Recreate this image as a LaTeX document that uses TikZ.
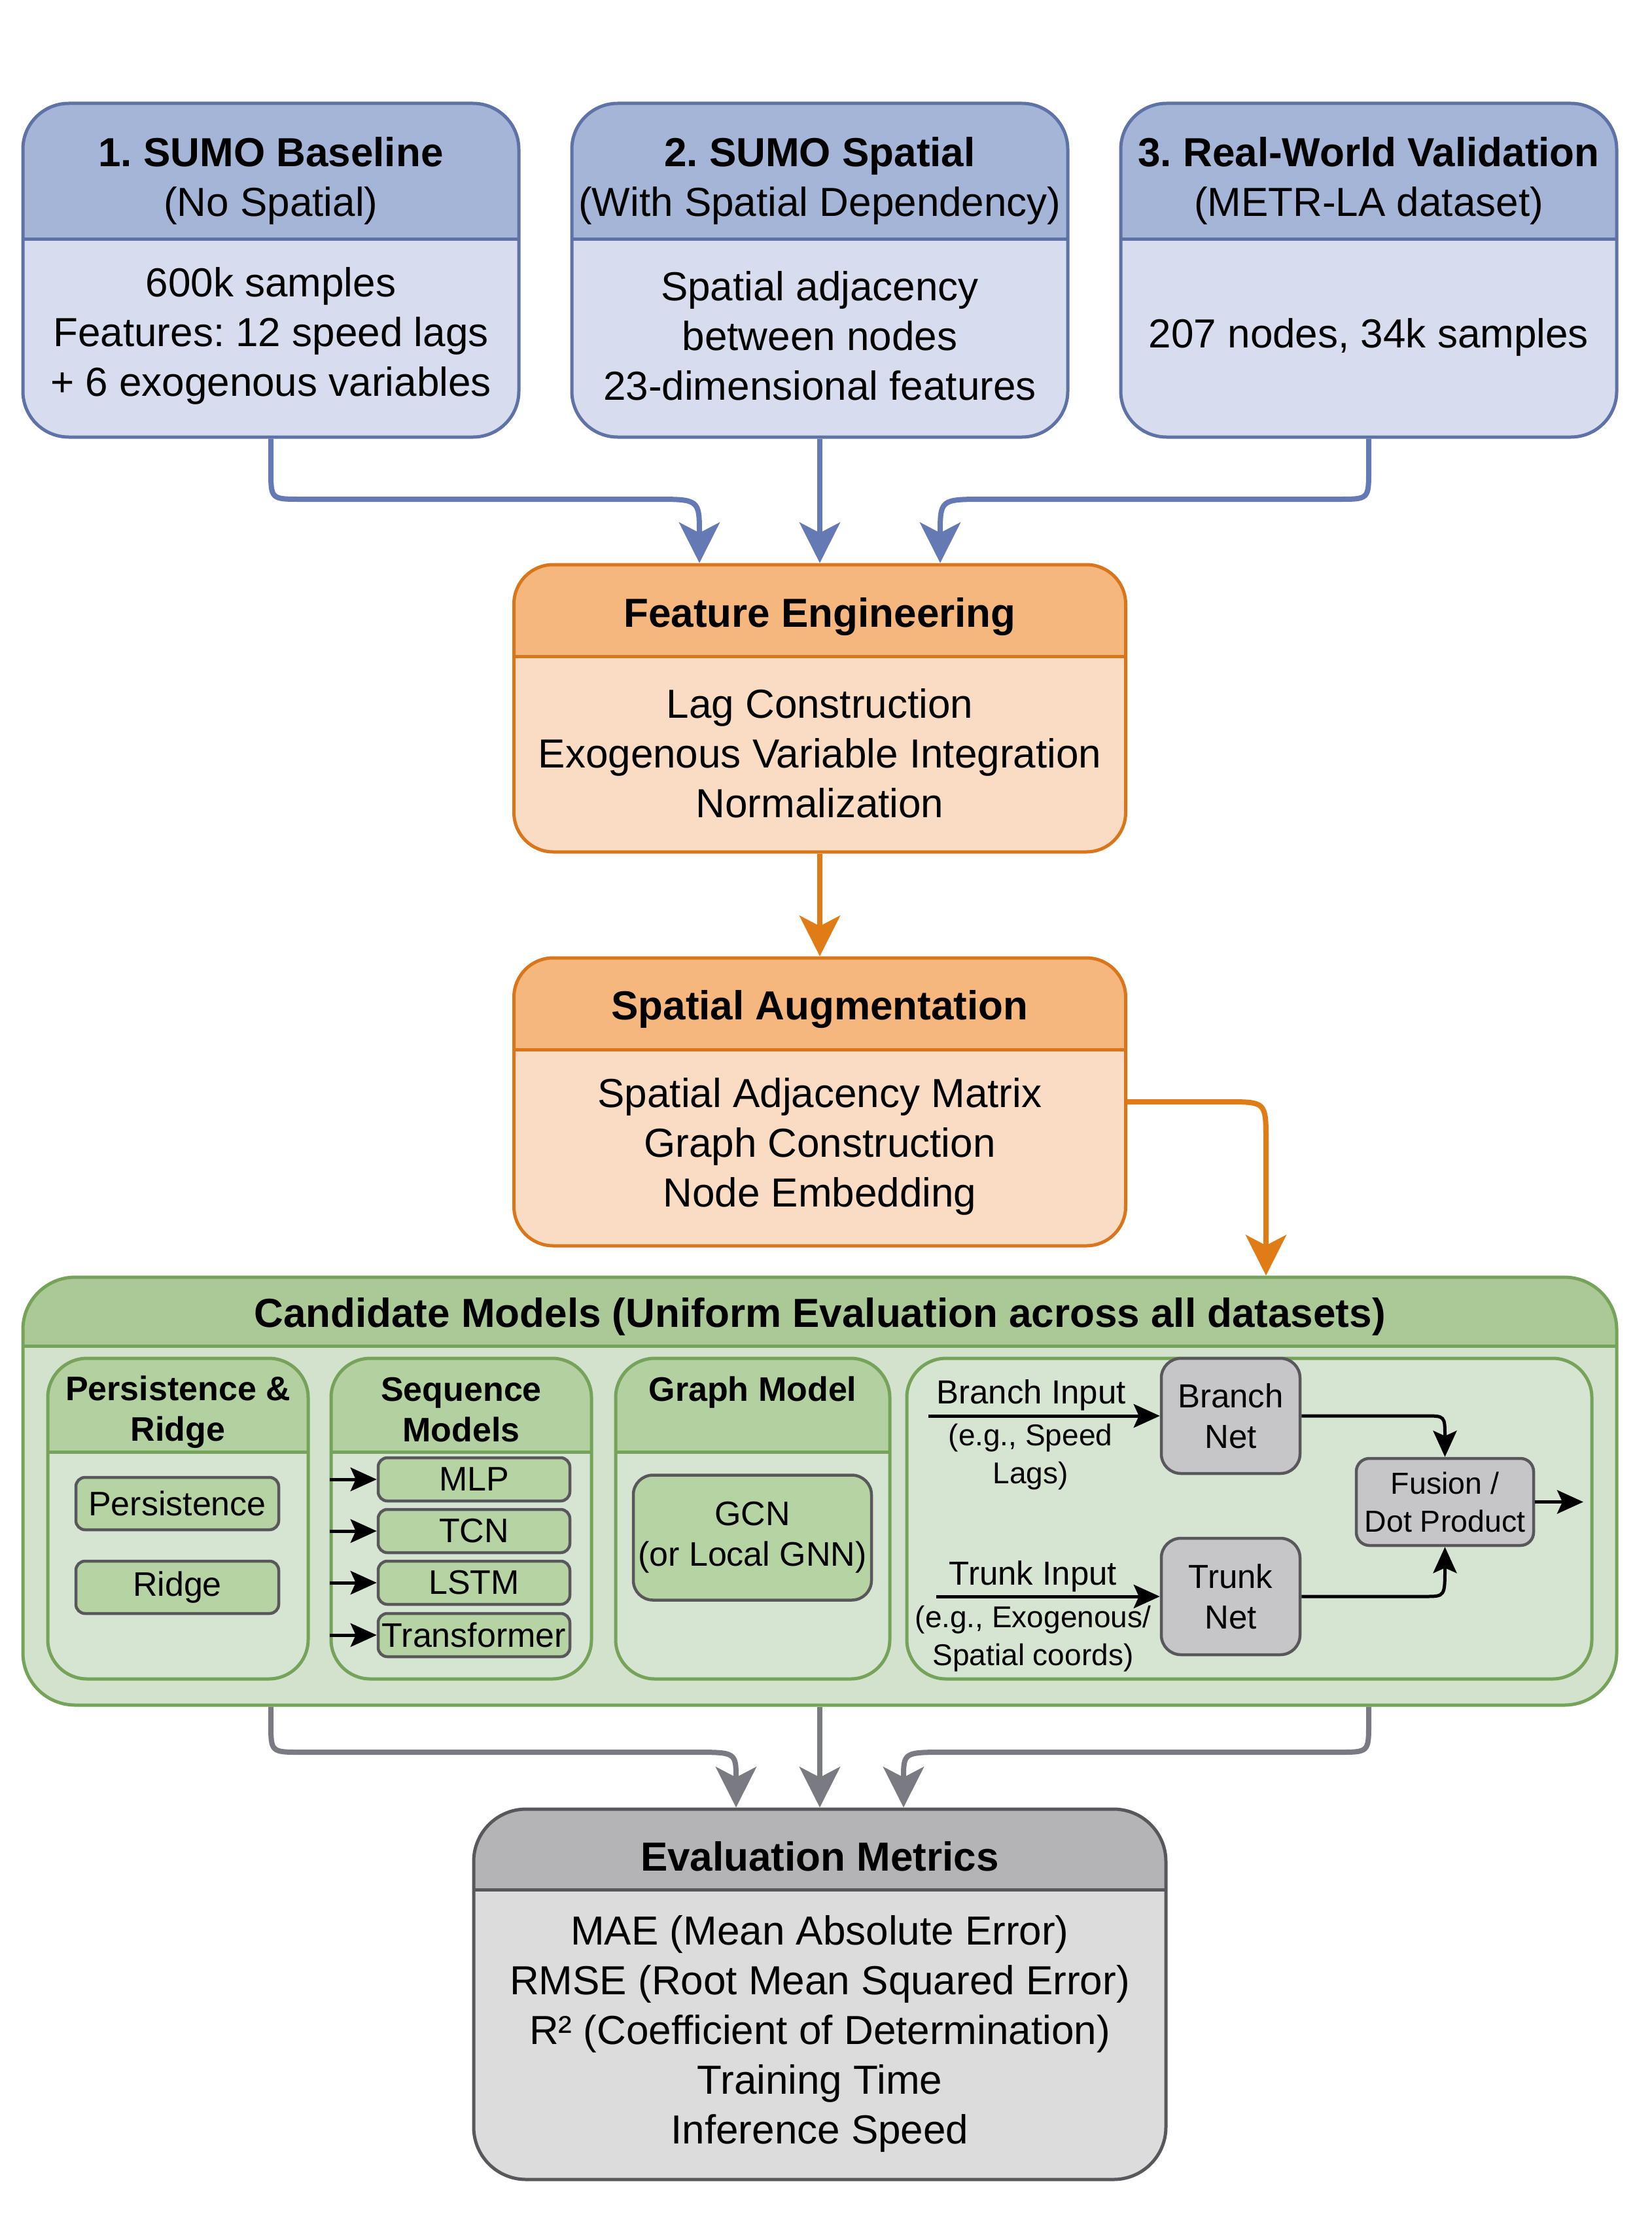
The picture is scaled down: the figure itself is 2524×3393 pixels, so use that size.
\documentclass[tikz,border=0pt]{standalone}
\usepackage{fontspec}
\setmainfont{Liberation Sans}
\frenchspacing
\usetikzlibrary{arrows.meta}
\definecolor{bhead}{HTML}{A4B5D7}
\definecolor{bbody}{HTML}{D7DDEF}
\definecolor{bline}{HTML}{5E72A6}
\definecolor{barr}{HTML}{6579B5}
\definecolor{ohead}{HTML}{F5B77E}
\definecolor{obody}{HTML}{FADBC3}
\definecolor{oline}{HTML}{D9761C}
\definecolor{oarr}{HTML}{E07C15}
\definecolor{ghead}{HTML}{AAC996}
\definecolor{gbody}{HTML}{D3E2CC}
\definecolor{gline}{HTML}{76A35A}
\definecolor{gsubhead}{HTML}{B2D0A0}
\definecolor{gsubbody}{HTML}{D6E5D1}
\definecolor{gitem}{HTML}{B6D3A3}
\definecolor{ehead}{HTML}{B4B4B6}
\definecolor{ebody}{HTML}{DCDCDC}
\definecolor{eline}{HTML}{58585C}
\definecolor{garr}{HTML}{7A7A82}
\definecolor{netfill}{HTML}{C6C6C8}
\begin{document}
\begin{tikzpicture}[x=1pt,y=-1pt,
  panel/.style n args={4}{rectangle, draw=#4, fill=#3, line width=5pt, inner sep=0pt,
    path picture={
      \fill[#2, sharp corners] ([shift={(-10pt,10pt)}]path picture bounding box.north west) rectangle ([shift={(10pt,-#1)}]path picture bounding box.north east);
      \draw[#4, line width=5pt, sharp corners] ([yshift=-#1]path picture bounding box.north west) -- ([yshift=-#1]path picture bounding box.north east);
    }},
  htext/.style={font=\fontsize{62}{76}\selectfont\bfseries, align=center, inner sep=0pt},
  btext/.style={font=\fontsize{62}{76}\selectfont, align=center, inner sep=0pt},
  subtitle/.style={font=\fontsize{52}{62}\selectfont\bfseries, align=center, inner sep=0pt},
  item/.style={rectangle, draw=eline, fill=gitem, line width=4.5pt, rounded corners=14pt, inner sep=0pt, align=center, font=\fontsize{52}{62}\selectfont},
  net/.style={rectangle, draw=eline, fill=netfill, line width=4.5pt, rounded corners=30pt, inner sep=0pt, align=center, font=\fontsize{51}{62}\selectfont},
  lab/.style={font=\fontsize{51}{60}\selectfont, inner sep=0pt},
  eg/.style={font=\fontsize{46}{58}\selectfont, align=center, inner sep=0pt},
  barrow/.style={draw=barr, line width=8pt, -{Stealth[length=62pt,width=62pt,inset=16pt]}},
  oarrow/.style={draw=oarr, line width=8pt, -{Stealth[length=62pt,width=62pt,inset=16pt]}},
  garrow/.style={draw=garr, line width=8pt, -{Stealth[length=62pt,width=62pt,inset=16pt]}},
  karrow/.style={draw=black, line width=5pt, -{Stealth[length=40pt,width=36pt,inset=8pt]}}
]
\path[use as bounding box, fill=white] (0,0) rectangle (2524,3393);

% top boxes
\node[panel={207pt}{bhead}{bbody}{bline}, rounded corners=70pt, minimum width=758pt, minimum height=510pt] (b1) at (414,413) {};
\node[htext] (b1h) at (414,276) {1. SUMO Baseline\\\mdseries (No Spatial)};
\node[btext] (b1t) at (414,513) {600k samples\\Features: 12 speed lags\\+ 6 exogenous variables};

\node[panel={207pt}{bhead}{bbody}{bline}, rounded corners=70pt, minimum width=758pt, minimum height=510pt] (b2) at (1253,413) {};
\node[htext] (b2h) at (1253,276) {2. SUMO Spatial\\\mdseries (With Spatial Dependency)};
\node[btext] (b2t) at (1253,513) {Spatial adjacency\\between nodes\\23-dimensional features};

\node[panel={207pt}{bhead}{bbody}{bline}, rounded corners=70pt, minimum width=758pt, minimum height=510pt] (b3) at (2092,413) {};
\node[htext] (b3h) at (2092,276) {3. Real-World Validation\\\mdseries (METR-LA dataset)};
\node[btext] (b3t) at (2092,515) {207 nodes, 34k samples};

% feature engineering
\node[panel={140pt}{ohead}{obody}{oline}, rounded corners=60pt, minimum width=935pt, minimum height=439pt] (fe) at (1253,1082.5) {};
\node[htext] (feh) at (1253,943) {Feature Engineering};
\node[btext] (fet) at (1253,1151) {Lag Construction\\Exogenous Variable Integration\\Normalization};

% spatial augmentation
\node[panel={140pt}{ohead}{obody}{oline}, rounded corners=60pt, minimum width=935pt, minimum height=440pt] (sa) at (1253,1684) {};
\node[htext] (sah) at (1253,1543) {Spatial Augmentation};
\node[btext] (sat) at (1253,1752) {Spatial Adjacency Matrix\\Graph Construction\\Node Embedding};

% candidate models
\node[panel={105pt}{ghead}{gbody}{gline}, rounded corners=80pt, minimum width=2436pt, minimum height=654pt] (cm) at (1253,2279) {};
\node[htext] (cmh) at (1253,2012) {Candidate Models (Uniform Evaluation across all datasets)};

\node[panel={143pt}{gsubhead}{gsubbody}{gline}, rounded corners=60pt, minimum width=398pt, minimum height=490pt] (pr) at (272,2321) {};
\node[subtitle] (prh) at (272,2158) {Persistence \&\\Ridge};
\node[item, minimum width=310pt, minimum height=80pt] (pers) at (271,2298) {Persistence};
\node[item, minimum width=310pt, minimum height=80pt] (ridge) at (271,2426) {Ridge};

\node[panel={143pt}{gsubhead}{gsubbody}{gline}, rounded corners=60pt, minimum width=398pt, minimum height=490pt] (sm) at (705,2321) {};
\node[subtitle] (smh) at (705,2155) {Sequence\\Models};
\node[item, minimum width=293pt, minimum height=66pt] (mlp) at (724.5,2261) {MLP};
\node[item, minimum width=293pt, minimum height=66pt] (tcn) at (724.5,2340) {TCN};
\node[item, minimum width=293pt, minimum height=66pt] (lstm) at (724.5,2419) {LSTM};
\node[item, minimum width=293pt, minimum height=66pt] (trf) at (724.5,2499) {Transformer};
\draw[karrow] (mlp.west -| sm.west) -- (mlp.west);
\draw[karrow] (tcn.west -| sm.west) -- (tcn.west);
\draw[karrow] (lstm.west -| sm.west) -- (lstm.west);
\draw[karrow] (trf.west -| sm.west) -- (trf.west);

\node[panel={143pt}{gsubhead}{gsubbody}{gline}, rounded corners=60pt, minimum width=419pt, minimum height=490pt] (gm) at (1150.5,2321) {};
\node[subtitle] (gmh) at (1150.5,2128) {Graph Model};
\node[item, minimum width=364pt, minimum height=191pt, rounded corners=30pt] (gcn) at (1150,2350) {GCN\\(or Local GNN)};

% operator-network panel
\node[rectangle, draw=gline, fill=gsubbody, line width=5pt, rounded corners=60pt, minimum width=1047pt, minimum height=490pt] (don) at (1909.5,2321) {};
\node[net, minimum width=212pt, minimum height=176pt] (bn) at (1881,2164) {Branch\\Net};
\node[net, minimum width=212pt, minimum height=178pt] (tn) at (1881,2440) {Trunk\\Net};
\node[net, minimum width=271pt, minimum height=133pt, rounded corners=20pt, font=\fontsize{46.5}{58}\selectfont] (fu) at (2208.5,2295.5) {Fusion /\\Dot Product};
\coordinate (bstart) at (1419,2164);
\coordinate (tstart) at (1431,2440);
\coordinate (fout) at (2420,2295.5);
\node[lab] (blab) at (1576,2132) {Branch Input};
\node[eg] (beg) at (1575,2227) {(e.g., Speed\\Lags)};
\node[lab] (tlab) at (1579,2409) {Trunk Input};
\node[eg] (teg) at (1579,2505) {(e.g., Exogenous/\\Spatial coords)};
\draw[karrow] (bstart) -- (bn.west);
\draw[karrow] (tstart) -- (tn.west);
\draw[karrow] (bn.east) -- (2178,2164) .. controls (2208.5,2164) .. (fu.north);
\draw[karrow] (tn.east) -- (2178,2440) .. controls (2208.5,2440) .. (fu.south);
\draw[karrow] (fu.east) -- (fout);

% evaluation metrics
\node[panel={123pt}{ehead}{ebody}{eline}, rounded corners=80pt, minimum width=1058pt, minimum height=566pt] (ev) at (1253,3048) {};
\node[htext] (evh) at (1253,2837) {Evaluation Metrics};
\node[btext] (evt) at (1253,3108) {MAE (Mean Absolute Error)\\RMSE (Root Mean Squared Error)\\R² (Coefficient of Determination)\\Training Time\\Inference Speed};

% connectors
\draw[barrow] (b1.south) -- (414,718) .. controls (414,763) .. (460,763) -- (1000,763) .. controls (1069,763) .. ([xshift=-184pt]fe.north);
\draw[barrow] (b2.south) -- (fe.north);
\draw[barrow] (b3.south) -- (2092,718) .. controls (2092,763) .. (2046,763) -- (1506,763) .. controls (1437,763) .. ([xshift=184pt]fe.north);
\draw[oarrow] (fe.south) -- (sa.north);
\draw[oarrow] (sa.east) -- (1875,1684) .. controls (1935,1684) .. (1935,1744) -- ([xshift=682pt]cm.north);
\draw[garrow] (cm.south -| b1.south) -- (414,2633) .. controls (414,2678) .. (460,2678) -- (1060,2678) .. controls (1125,2678) .. ([xshift=-128pt]ev.north);
\draw[garrow] (cm.south) -- (ev.north);
\draw[garrow] (cm.south -| b3.south) -- (2092,2633) .. controls (2092,2678) .. (2046,2678) -- (1446,2678) .. controls (1381,2678) .. ([xshift=128pt]ev.north);
\end{tikzpicture}
\end{document}
